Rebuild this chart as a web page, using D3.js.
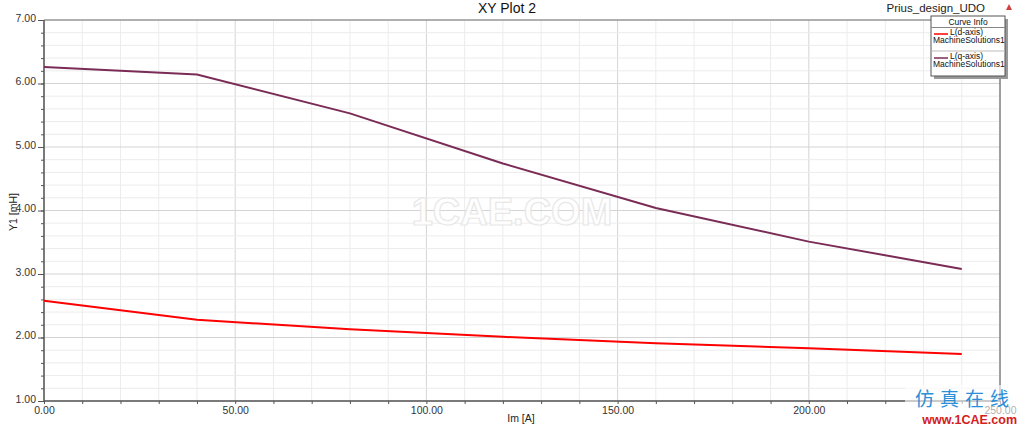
<!DOCTYPE html>
<html><head><meta charset="utf-8">
<script src="https://cdn.jsdelivr.net/npm/d3@7"></script>
<style>body{margin:0;background:#fff;} svg{display:block;font-family:Arial, "Liberation Sans", sans-serif;}</style>
</head><body>
<svg id="c" width="1023" height="427"></svg>
<script>
const currentIm = [0, 40, 80, 120, 160, 200, 240];
const Ld = [2.58, 2.28, 2.13, 2.01, 1.91, 1.83, 1.74];
const Lq = [6.26, 6.14, 5.53, 4.74, 4.04, 3.51, 3.08];
const xTicks = [0, 50, 100, 150, 200, 250];
const yTicks = [1, 2, 3, 4, 5, 6, 7];
const seriesNames = ["L(d-axis)", "L(q-axis)"];
const seriesSub = "MachineSolutions1";
const colors = ["#ff0000", "#7a2b56"];

const svg = d3.select("#c");
const L = 44, R = 1000, T = 20, B = 401;
const x = d3.scaleLinear().domain([0, 250]).range([L, R]);
const y = d3.scaleLinear().domain([1, 7]).range([B, T]);

// grid
const g = svg.append("g");
d3.range(0, 251, 10).forEach(v => {
  g.append("line").attr("x1", x(v)).attr("x2", x(v)).attr("y1", T).attr("y2", B)
   .attr("stroke", v % 50 === 0 ? "#d4d4d4" : "#ececec").attr("stroke-width", 1);
});
d3.range(10, 71, 2).forEach(k => {
  const v = k / 10;
  g.append("line").attr("x1", L).attr("x2", R).attr("y1", y(v)).attr("y2", y(v))
   .attr("stroke", k % 10 === 0 ? "#d4d4d4" : "#ececec").attr("stroke-width", 1);
});

// watermark
svg.append("text").attr("x", 512).attr("y", 225).attr("text-anchor", "middle")
  .attr("font-size", 38).attr("font-weight", "bold").attr("fill", "#fff")
  .attr("stroke", "#e6e6e6").attr("stroke-width", 1.2).attr("opacity", 0.9)
  .text("1CAE.COM");

// axes frame
svg.append("line").attr("x1", L).attr("x2", L).attr("y1", T).attr("y2", B).attr("stroke", "#555").attr("stroke-width", 1.5);
svg.append("line").attr("x1", L).attr("x2", R).attr("y1", B).attr("y2", B).attr("stroke", "#555").attr("stroke-width", 1.5);
svg.append("line").attr("x1", L).attr("x2", R).attr("y1", T).attr("y2", T).attr("stroke", "#777").attr("stroke-width", 1);
svg.append("line").attr("x1", R).attr("x2", R).attr("y1", T).attr("y2", B).attr("stroke", "#555").attr("stroke-width", 1);

// y axis
const yAx = d3.axisLeft(y).tickValues(d3.range(10, 71, 2).map(k => k / 10))
  .tickSize(3).tickFormat("");
svg.append("g").attr("transform", `translate(${L},0)`).call(yAx)
  .call(s => s.select(".domain").remove())
  .call(s => s.selectAll("line").attr("stroke", "#555"));
const yAxM = d3.axisLeft(y).tickValues(yTicks).tickSize(6).tickFormat(d3.format(".2f"));
svg.append("g").attr("transform", `translate(${L},0)`).call(yAxM)
  .call(s => s.select(".domain").remove())
  .call(s => s.selectAll("line").attr("stroke", "#555"))
  .call(s => s.selectAll("text").attr("font-size", 10.5).attr("fill", "#333")
     .attr("font-family", "Arial, 'Liberation Sans', sans-serif").attr("x", -8).attr("dy", "0.1em"));

// x axis
const xAx = d3.axisBottom(x).tickValues(d3.range(0, 251, 10)).tickSize(3).tickFormat("");
svg.append("g").attr("transform", `translate(0,${B})`).call(xAx)
  .call(s => s.select(".domain").remove())
  .call(s => s.selectAll("line").attr("stroke", "#555"));
const xAxM = d3.axisBottom(x).tickValues(xTicks).tickSize(0).tickFormat(d3.format(".2f"));
svg.append("g").attr("transform", `translate(0,${B})`).call(xAxM)
  .call(s => s.select(".domain").remove())
  .call(s => s.selectAll("text").attr("font-size", 10.5).attr("fill", "#333")
     .attr("font-family", "Arial, 'Liberation Sans', sans-serif").attr("y", 6));

// lines
const line = d3.line().x((d, i) => x(currentIm[i])).y(d => y(d));
[Ld, Lq].forEach((s, i) => {
  svg.append("path").datum(s).attr("d", line).attr("fill", "none")
    .attr("stroke", colors[i]).attr("stroke-width", 2);
});

// titles
svg.append("text").attr("x", 507).attr("y", 13).attr("text-anchor", "middle")
  .attr("font-size", 14).attr("fill", "#111").text("XY Plot 2");
svg.append("text").attr("x", 985).attr("y", 12).attr("text-anchor", "end")
  .attr("font-size", 11.5).attr("fill", "#222").text("Prius_design_UDO");
svg.append("path").attr("d", "M1006,10 L1009,4 L1012,10 Z").attr("fill", "#d04040");
svg.append("text").attr("x", 521).attr("y", 422).attr("text-anchor", "middle")
  .attr("font-size", 10.5).attr("fill", "#222").text("Im [A]");
svg.append("text").attr("transform", "translate(17,212) rotate(-90)").attr("text-anchor", "middle")
  .attr("font-size", 10.5).attr("fill", "#222").text("Y1 [mH]");

// legend
const lx = 931, ly = 16, lw = 74, lh = 60;
svg.append("rect").attr("x", lx + 3).attr("y", ly + 3).attr("width", lw).attr("height", lh).attr("fill", "#999");
svg.append("rect").attr("x", lx).attr("y", ly).attr("width", lw).attr("height", lh).attr("fill", "#fff").attr("stroke", "#555");
svg.append("text").attr("x", lx + lw / 2).attr("y", ly + 9).attr("text-anchor", "middle").attr("font-size", 8.5).attr("fill", "#111").text("Curve Info");
svg.append("line").attr("x1", lx).attr("x2", lx + lw).attr("y1", ly + 11.5).attr("y2", ly + 11.5).attr("stroke", "#888");
svg.append("line").attr("x1", lx).attr("x2", lx + lw).attr("y1", ly + 35).attr("y2", ly + 35).attr("stroke", "#bbb");
seriesNames.forEach((n, i) => {
  const yy = ly + 18 + i * 24;
  svg.append("line").attr("x1", lx + 3).attr("x2", lx + 17).attr("y1", yy).attr("y2", yy).attr("stroke", colors[i]).attr("stroke-width", 1.5);
  svg.append("text").attr("x", lx + 19).attr("y", yy + 1).attr("font-size", 8.5).attr("fill", "#111").text(n);
  svg.append("text").attr("x", lx + 2).attr("y", yy + 9).attr("font-size", 8.5).attr("fill", "#111").text(seriesSub);
});

// corner logo
svg.append("rect").attr("x", 905).attr("y", 385).attr("width", 118).attr("height", 42).attr("fill", "#fff").attr("opacity", 0.6);
svg.append("text").attr("x", 965).attr("y", 406).attr("text-anchor", "middle").attr("font-size", 19)
  .attr("font-family", "'Noto Sans CJK SC', sans-serif").attr("fill", "#2a8fd8").attr("letter-spacing", 6).text("仿真在线");
svg.append("text").attr("x", 1017).attr("y", 424).attr("text-anchor", "end").attr("font-size", 12.5)
  .attr("font-weight", "bold").attr("fill", "#d42020").text("www.1CAE.com");
</script>
</body></html>
